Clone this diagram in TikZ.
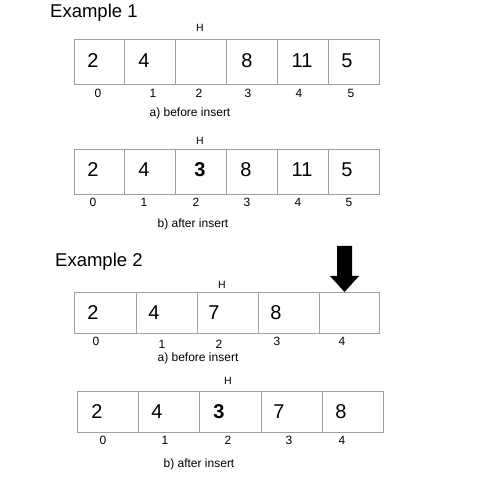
\documentclass[tikz,border=0pt]{standalone}
\usepackage{fontspec}
\setmainfont{Liberation Sans}
\definecolor{cellgray}{HTML}{A0A0A0}
\tikzset{
  cell/.style={draw=cellgray, line width=0.8pt, inner sep=0pt, outer sep=0pt},
  val/.style={font=\fontsize{20}{24}\selectfont, inner sep=0pt},
  idx/.style={font=\fontsize{12}{14}\selectfont, inner sep=0pt},
  hlab/.style={font=\fontsize{10.5}{12}\selectfont, inner sep=0pt},
  caption/.style={font=\fontsize{12}{14}\selectfont, inner sep=0pt},
  title/.style={font=\fontsize{18.5}{22}\selectfont, inner sep=0pt, anchor=base west},
}
\begin{document}
\begin{tikzpicture}[x=1pt,y=-1pt]
\useasboundingbox[fill=white] (0,0) rectangle (501,481);

% ---------- Example 1 ----------
\node[title] (t1) at (50,18) {Example 1};

% a) before insert
\foreach \l/\r [count=\i from 0] in {74/124,124/175,175/226,226/277,277/328,328/379}
  \node[cell, minimum width={(\r-\l)*1pt}, minimum height=45pt] (a\i) at ({(\l+\r)/2},61.5) {};
\node[val] (av0) at (93,61) {2};
\node[val] (av1) at (144,61) {4};
\node[val] (av3) at (247,61) {8};
\node[val] (av4) at (302,61) {11};
\node[val] (av5) at (347,61) {5};
\foreach \x/\t [count=\i from 0] in {98/0,153/1,199/2,248/3,299/4,351/5}
  \node[idx] (ai\i) at (\x,93) {\t};
\node[hlab] (ah) at (200,28) {H};
\node[caption] (acap) at (190,113) {a) before insert};

% b) after insert
\foreach \l/\r [count=\i from 0] in {74/124,124/175,175/226,226/277,277/328,328/379}
  \node[cell, minimum width={(\r-\l)*1pt}, minimum height=45pt] (b\i) at ({(\l+\r)/2},171.5) {};
\node[val] (bv0) at (93,170) {2};
\node[val] (bv1) at (144,170) {4};
\node[val] (bv2) at (200,170) {\textbf{3}};
\node[val] (bv3) at (246,170) {8};
\node[val] (bv4) at (302,170) {11};
\node[val] (bv5) at (347,170) {5};
\foreach \x/\t [count=\i from 0] in {93/0,144/1,196/2,247/3,298/4,349/5}
  \node[idx] (bi\i) at (\x,202) {\t};
\node[hlab] (bh) at (200,141) {H};
\node[caption] (bcap) at (193,224) {b) after insert};

% ---------- Example 2 ----------
\node[title] (t2) at (55,267) {Example 2};

% a) before insert
\foreach \l/\r [count=\i from 0] in {74/136,136/197,197/258,258/319,319/379}
  \node[cell, minimum width={(\r-\l)*1pt}, minimum height=41pt] (c\i) at ({(\l+\r)/2},312.5) {};
\node[val] (cv0) at (93,313) {2};
\node[val] (cv1) at (154,313) {4};
\node[val] (cv2) at (214,313) {7};
\node[val] (cv3) at (276,313) {8};
\foreach \x/\y/\t [count=\i from 0] in {96/341/0,162/344/1,219/344/2,277/341/3,342/341/4}
  \node[idx] (ci\i) at (\x,\y) {\t};
\node[hlab] (ch) at (222,285) {H};
\node[caption] (ccap) at (198,358) {a) before insert};
% big arrow
\fill[black] (337,246) -- (352,246) -- (352,276) -- (359,276) -- (344.5,292)
  -- (330,276) -- (337,276) -- cycle;

% b) after insert
\foreach \l/\r [count=\i from 0] in {77/138,138/199,199/261,261/322,322/383}
  \node[cell, minimum width={(\r-\l)*1pt}, minimum height=41pt] (d\i) at ({(\l+\r)/2},411.5) {};
\node[val] (dv0) at (97,412) {2};
\node[val] (dv1) at (157,412) {4};
\node[val] (dv2) at (219,412) {\textbf{3}};
\node[val] (dv3) at (279,412) {7};
\node[val] (dv4) at (341,412) {8};
\foreach \x/\t [count=\i from 0] in {103/0,165/1,228/2,289/3,342/4}
  \node[idx] (di\i) at (\x,440) {\t};
\node[hlab] (dh) at (228,381) {H};
\node[caption] (dcap) at (199,464) {b) after insert};
\end{tikzpicture}
\end{document}
